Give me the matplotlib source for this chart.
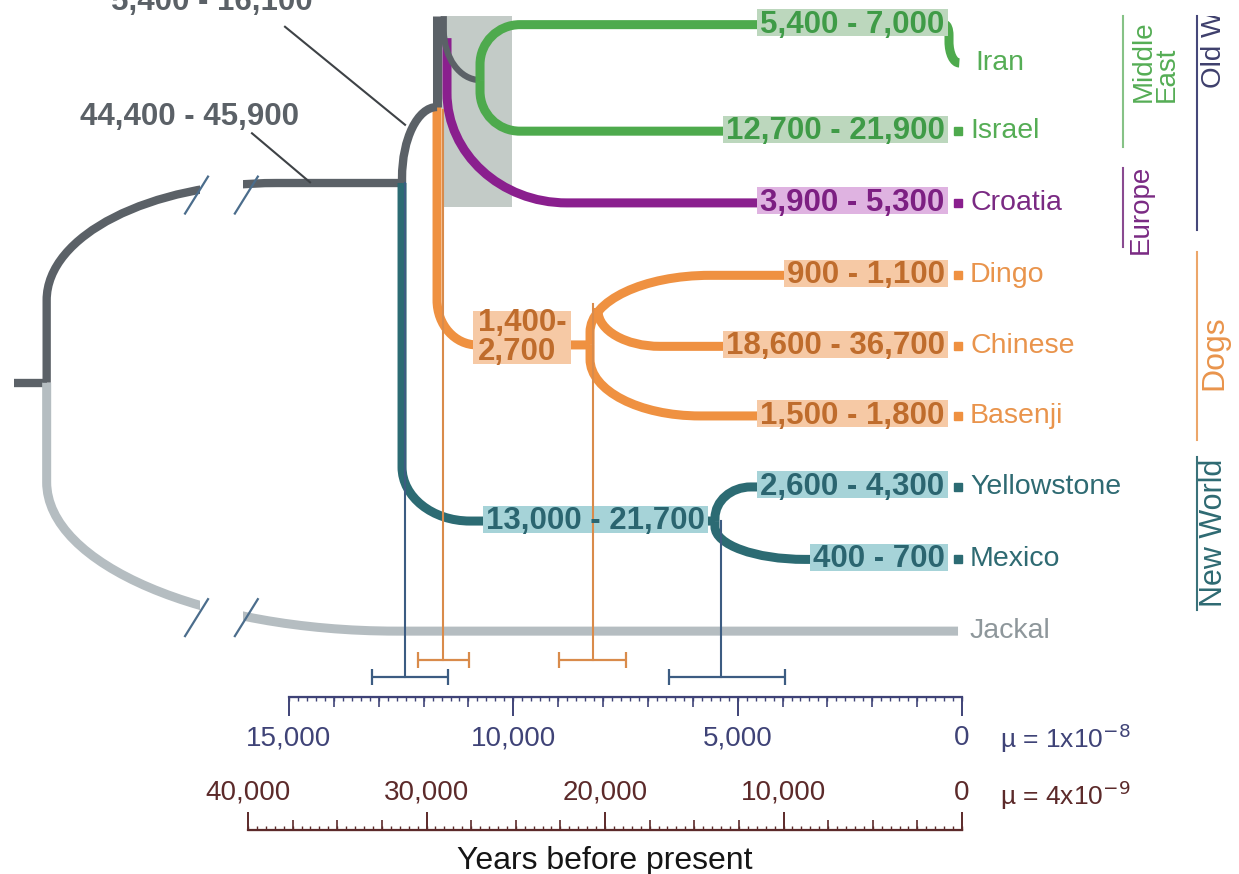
import numpy as np
import matplotlib
matplotlib.use("Agg")
import matplotlib.pyplot as plt
from matplotlib.path import Path
from matplotlib.patches import PathPatch, Rectangle
from matplotlib.ticker import MultipleLocator, FuncFormatter
from matplotlib.transforms import Bbox, TransformedBbox

plt.rcParams['font.family'] = ['Liberation Sans', 'DejaVu Sans']

# ---- values: ages are years before present on the mu = 1e-8 scale,
# rows count downwards from Iran (0) to Jackal (8)
taxa = ['Iran', 'Israel', 'Croatia', 'Dingo', 'Chinese', 'Basenji', 'Yellowstone', 'Mexico', 'Jackal']
taxon_rows = [0.0, 0.96, 1.97, 2.99, 3.99, 4.97, 5.97, 6.99, 8.0]
taxon_group = ['me', 'me', 'eu', 'dog', 'dog', 'dog', 'nw', 'nw', 'jackal']

tip_ranges = ['5,400 - 7,000', '12,700 - 21,900', '3,900 - 5,300', '900 - 1,100',
              '18,600 - 36,700', '1,500 - 1,800', '2,600 - 4,300', '400 - 700']
tip_range_rows = [-0.54, 0.96, 1.97, 2.99, 3.99, 4.97, 5.97, 6.99]
tip_range_group = ['me', 'me', 'eu', 'dog', 'dog', 'dog', 'nw', 'nw']

inner_ranges = ['13,000 - 21,700', '1,400-\n2,700']
inner_range_age = [5728, 10787]
inner_range_rows = [6.45, 3.87]
inner_range_group = ['nw', 'dog']

lead_texts = ['44,400 - 45,900', '5,400 - 16,100']
lead_text_age = [17206, 16715]
lead_text_rows = [0.76, -0.86]
lead_from = [(15824, 0.99), (15088, -0.51)]
lead_to = [(14531, 1.68), (12413, 0.87)]

# internal nodes
root_age, root_row = 20400, 4.5
stub_age = 21128
split_age, split_row = 12480, 1.69
stem_age, stem_row = 11700, 0.62
link_age = 11550
me_age, me_row = 10742, 0.24
cro_age, cro_top = 11478, -0.35
dog_age, dog_row = 8290, 3.97
chn_age, chn_row = 8112, 3.45
nw_age, nw_row = 5505, 6.45
tip_age = 379
end_age = 89
iran_hook_age = [290, 60]
top_row = -0.66          # the drawing is cut off here
break_ages = [17060, 15950]
break_rows = [1.86, 7.81]
shade_ages = [11589, 10029]
shade_bottom = 2.03

# node ages with confidence intervals
ci_age = [12413, 11567, 8224, 5371]
ci_low = [11455, 10988, 7488, 3945]
ci_high = [13149, 12124, 8982, 6530]
ci_top_row = [1.69, 0.66, 3.40, 6.45]
ci_bar_row = [8.65, 8.41, 8.41, 8.65]
ci_group = ['ci_nw', 'ci_dog', 'ci_dog', 'ci_nw']

# regional groups on the right
group_names = ['Middle\nEast', 'Old World', 'Europe', 'Dogs', 'New World']
group_key = ['me', 'ow', 'eu', 'dog', 'nw']
group_span = [(top_row, 1.18), (top_row, 2.35), (1.48, 2.59), (2.66, 5.31), (5.55, 7.70)]
group_text_rows = [-0.02, 0.35, 2.06, 4.08, 6.62]
group_col = [0, 1, 0, 1, 1]
group_line_age = [-3588, -5237]
group_text_age = [-4300, -5616, -3989, -5616, -5616]
group_font = [20, 20, 20, 23, 22]

# ---- colours
GREY = '#5b6167'
LIGHT = '#b5bdc1'
TEAL = '#2c6b73'
GREEN = '#4eaa4d'
PURPLE = '#8a1f8e'
ORANGE = '#ef9141'
line_col = {'me': '#86c286', 'ow': '#46487a', 'eu': '#8a4b91', 'dog': '#eca66a', 'nw': '#3a727a'}
name_col = {'me': '#55ad55', 'ow': '#3e3f6c', 'eu': '#7a2a83', 'dog': '#e9944c', 'nw': '#2e6a72',
            'jackal': '#8e979b'}
text_col = {'me': '#3f9b47', 'eu': '#7c1f82', 'dog': '#bf6c2c', 'nw': '#2b6570'}
tint_col = {'me': '#bcd7bd', 'eu': '#dfb3e1', 'dog': '#f6c9a5', 'nw': '#a6d3d8'}
branch_col = {'me': GREEN, 'eu': PURPLE, 'dog': ORANGE, 'nw': TEAL}
ci_col = {'ci_nw': '#3c5c82', 'ci_dog': '#d98b4b'}
AX1 = '#3f4377'
AX2 = '#5c2a2a'

K = 0.5523


def rounded(points, radii):
    verts = [points[0]]
    codes = [Path.MOVETO]
    for i in range(1, len(points) - 1):
        (ax_, ay), (px, py), (bx, by) = points[i - 1], points[i], points[i + 1]
        rx, ry = radii[i - 1]
        if ax_ == px:   # vertical into the corner
            s = (px, py - np.sign(py - ay) * ry)
            e = (px + np.sign(bx - px) * rx, py)
        else:
            s = (px - np.sign(px - ax_) * rx, py)
            e = (px, py + np.sign(by - py) * ry)
        c1 = (s[0] + (px - s[0]) * K, s[1] + (py - s[1]) * K)
        c2 = (e[0] + (px - e[0]) * K, e[1] + (py - e[1]) * K)
        verts += [s, c1, c2, e]
        codes += [Path.LINETO, Path.CURVE4, Path.CURVE4, Path.CURVE4]
    verts.append(points[-1])
    codes.append(Path.LINETO)
    return Path(verts, codes)


fig = plt.figure(figsize=(12.39, 8.74), dpi=100)
ax = fig.add_axes([0, 0, 1, 1])
ax.set_xlim(21440, -6173)
ax.set_ylim(11.42, -0.887)
ax.axis('off')
top_clip = TransformedBbox(Bbox([[-7000, top_row], [22000, 12]]), ax.transData)

# grey shaded band
ax.add_patch(Rectangle((shade_ages[1], top_row), shade_ages[0] - shade_ages[1], shade_bottom - top_row,
                       fc='#c3cbc7', ec='none', zorder=0.5))

branches = [
    ([(stub_age, root_row), (root_age, root_row)], [], GREY, 6),
    ([(root_age, root_row), (root_age, taxon_rows[8]), (end_age, taxon_rows[8])], [(7800, 2.1)], LIGHT, 6.5),
    ([(root_age, root_row), (root_age, split_row), (split_age, split_row)], [(5126, 1.65)], GREY, 6),
    ([(split_age, split_row), (split_age, nw_row), (nw_age, nw_row)], [(1515, 0.76)], TEAL, 6.5),
    ([(nw_age, nw_row), (nw_age, taxon_rows[6]), (tip_age, taxon_rows[6])], [(800, 0.44)], TEAL, 6.5),
    ([(nw_age, nw_row), (nw_age, taxon_rows[7]), (tip_age, taxon_rows[7])], [(2006, 0.46)], TEAL, 6.5),
    ([(stem_age, stem_row), (stem_age, dog_row), (dog_age, dog_row)], [(890, 0.63)], ORANGE, 6.5),
    ([(dog_age, dog_row), (dog_age, taxon_rows[3]), (tip_age, taxon_rows[3])], [(2674, 0.8)], ORANGE, 6.5),
    ([(chn_age, chn_row), (chn_age, taxon_rows[4]), (tip_age, taxon_rows[4])], [(1382, 0.5)], ORANGE, 6.5),
    ([(dog_age, dog_row), (dog_age, taxon_rows[5]), (tip_age, taxon_rows[5])], [(2452, 0.8)], ORANGE, 6.5),
    ([(cro_age, cro_top), (cro_age, taxon_rows[2]), (tip_age, taxon_rows[2])], [(2674, 1.55)], PURPLE, 6.5),
    ([(split_age, split_row), (split_age, stem_row), (stem_age, stem_row)], [(780, 1.0)], GREY, 6),
    ([(stem_age, stem_row), (stem_age, top_row)], [], GREY, 6.5),
    ([(link_age, top_row), (link_age, me_row), (me_age, me_row)], [(808, 0.7)], GREY, 4.5),
    ([(me_age, me_row), (me_age, tip_range_rows[0]), (iran_hook_age[0], tip_range_rows[0]),
      (iran_hook_age[0], taxon_rows[0]), (iran_hook_age[1], taxon_rows[0])],
     [(890, 0.56), (89, 0.15), (230, 0.3)], GREEN, 6.5),
    ([(me_age, me_row), (me_age, taxon_rows[1]), (tip_age, taxon_rows[1])], [(890, 0.56)], GREEN, 6.5),
]
for pts, radii, col, lw in branches:
    ax.add_patch(PathPatch(rounded(pts, radii), fill=False, ec=col, lw=lw,
                           capstyle='butt', joinstyle='round', zorder=2))

# broken root branches
for r in break_rows:
    ax.add_patch(Rectangle((break_ages[1] + 80, r - 0.45), break_ages[0] - break_ages[1] - 160, 0.9,
                           fc='white', ec='none', zorder=2.5))
    for b in break_ages:
        ax.plot([b + 256, b - 256], [r + 0.26, r - 0.26], color='#4b6d8c', lw=1.6, zorder=3)

# tip squares
for row, g in zip(taxon_rows[1:8], taxon_group[1:8]):
    ax.plot(end_age, row, marker='s', ms=5.5, color=branch_col[g], zorder=3)

# taxon names
for name, row, g in zip(taxa, taxon_rows, taxon_group):
    xpos = -290 if name == 'Iran' else -178
    ax.text(xpos, row, name, ha='left', va='center', fontsize=20.5, color=name_col[g], zorder=5)

# range labels
range_texts = []
for txt, row, g in zip(tip_ranges, tip_range_rows, tip_range_group):
    t = ax.text(tip_age + 10, row, txt, ha='right', va='center', fontsize=22.5, fontweight='bold',
                color=text_col[g], zorder=5)
    range_texts.append((t, g, False))
for txt, age, row, g in zip(inner_ranges, inner_range_age, inner_range_rows, inner_range_group):
    multi = '\n' in txt
    t = ax.text(age, row, txt, ha='left' if multi else 'right', va='center', fontsize=22.5,
                fontweight='bold', color=text_col[g], linespacing=0.95, zorder=5)
    range_texts.append((t, g, multi))

# leader labels
for txt, age, row, p0, p1 in zip(lead_texts, lead_text_age, lead_text_rows, lead_from, lead_to):
    ax.text(age, row, txt, ha='center', va='center', fontsize=22.5, fontweight='bold', color=GREY, zorder=5)
    ax.plot([p0[0], p1[0]], [p0[1], p1[1]], color='#3e4246', lw=1.5, zorder=4)

# node ages and confidence intervals
for a, lo, hi, top, bar, g in zip(ci_age, ci_low, ci_high, ci_top_row, ci_bar_row, ci_group):
    ax.plot([a, a], [top, bar], color=ci_col[g], lw=1.5, zorder=4)
    ax.errorbar(a, bar, xerr=[[a - lo], [hi - a]], fmt='none', ecolor=ci_col[g], elinewidth=1.6,
                capsize=6, capthick=1.6, zorder=4)

# regional groups
for name, key, span, trow, col, tx, fs in zip(group_names, group_key, group_span, group_text_rows,
                                              group_col, group_text_age, group_font):
    ax.plot([group_line_age[col]] * 2, list(span), color=line_col[key], lw=1.5, zorder=3)
    t = ax.text(tx, trow, name, rotation=90, ha='center',
                va='bottom' if key == 'ow' else 'center', multialignment='left', linespacing=0.85,
                fontsize=fs, color=name_col[key], zorder=5)
    t.set_clip_box(top_clip)
    t.set_clip_on(True)

# mutation rate labels
ax.text(-847, 9.51, 'µ = 1x10$^{-8}$', ha='left', va='center', fontsize=19, color=AX1)
ax.text(-847, 10.31, 'µ = 4x10$^{-9}$', ha='left', va='center', fontsize=19, color=AX2)

# ---- time scales
fmt = FuncFormatter(lambda v, p: f'{int(round(v)):,}')

ax1 = fig.add_axes([289 / 1239, 1 - 697 / 874, 673 / 1239, 0.0005])
ax1.set_xlim(15000, 0)
ax1.patch.set_visible(False)
for s in ['top', 'left', 'right']:
    ax1.spines[s].set_visible(False)
ax1.spines['bottom'].set_color(AX1)
ax1.spines['bottom'].set_linewidth(1.6)
ax1.set_yticks([])
ax1.xaxis.set_major_locator(MultipleLocator(5000))
ax1.xaxis.set_minor_locator(MultipleLocator(1000))
ax1.xaxis.set_major_formatter(fmt)
ax1.tick_params(which='major', length=13.5, width=1.4, color=AX1, labelsize=20, labelcolor=AX1, pad=7)
ax1.tick_params(which='minor', length=7.5, width=1.2, color=AX1)
sec1 = ax1.secondary_xaxis('bottom')
sec1.set_xticks(np.arange(0, 15001, 200))
sec1.tick_params(length=3, width=1.0, color=AX1, labelbottom=False)
sec1.spines['bottom'].set_color(AX1)

ax2 = fig.add_axes([248 / 1239, 1 - 830 / 874 - 0.0005, 714 / 1239, 0.0005])
ax2.set_xlim(40000, 0)
ax2.patch.set_visible(False)
for s in ['bottom', 'left', 'right']:
    ax2.spines[s].set_visible(False)
ax2.spines['top'].set_color(AX2)
ax2.spines['top'].set_linewidth(1.6)
ax2.set_yticks([])
ax2.xaxis.tick_top()
ax2.xaxis.set_major_locator(MultipleLocator(10000))
ax2.xaxis.set_minor_locator(MultipleLocator(2500))
ax2.xaxis.set_major_formatter(fmt)
ax2.tick_params(which='major', length=13, width=1.4, color=AX2, labelsize=20, labelcolor=AX2, pad=4.5)
ax2.tick_params(which='minor', length=7, width=1.2, color=AX2)
sec2 = ax2.secondary_xaxis('top')
sec2.set_xticks(np.arange(0, 40001, 500))
sec2.tick_params(length=3, width=1.0, color=AX2, labeltop=False)
sec2.spines['top'].set_color(AX2)
ax2.set_xlabel('Years before present', fontsize=23, color='#151515', labelpad=11)
ax2.xaxis.set_label_position('bottom')

# ---- tinted boxes behind range labels, sized from the rendered text
fig.canvas.draw()
inv = ax.transData.inverted()
for t, g, multi in range_texts:
    bb = t.get_window_extent()
    if multi:
        (xa, ya), (xb, yb) = inv.transform([(bb.x0 - 5, bb.y0 + 3), (bb.x1 + 4, bb.y1 - 3)])
        y0, h = min(ya, yb), abs(yb - ya)
    else:
        cy = (bb.y0 + bb.y1) / 2 + 2
        (xa, ya), (xb, yb) = inv.transform([(bb.x0 - 3, cy - 13.5), (bb.x1 + 3, cy + 13.5)])
        y0, h = min(ya, yb), abs(yb - ya)
    ax.add_patch(Rectangle((min(xa, xb), y0), abs(xb - xa), h, fc=tint_col[g], ec='none', zorder=3))

fig.savefig('out.png', dpi=100)
